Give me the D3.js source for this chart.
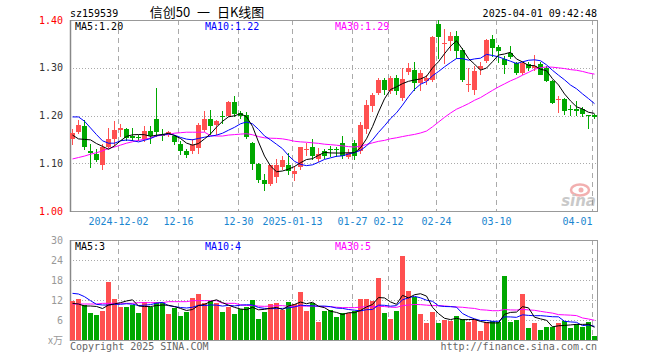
<!DOCTYPE html>
<html>
<head>
<meta charset="utf-8">
<title>sz159539</title>
<style>
body { margin: 0; background: #fff; overflow: hidden; }
svg text { font-family: "DejaVu Sans Mono", monospace; font-size: 10px; }
</style>
<script src="https://d3js.org/d3.v7.min.js"></script>
</head>
<body>
<script>
// daily candles 2024-11-20 .. 2025-04-01 (88 trading days)
const opens = [1.150,1.165,1.179,1.126,1.119,1.096,1.135,1.150,1.169,1.171,
  1.157,1.154,1.150,1.167,1.192,1.160,1.160,1.157,1.140,1.126,
  1.126,1.131,1.169,1.193,1.181,1.200,1.199,1.228,1.206,1.202,
  1.143,1.098,1.065,1.056,1.072,1.092,1.096,1.077,1.093,1.128,
  1.133,1.108,1.126,1.130,1.130,1.143,1.114,1.143,1.126,1.171,
  1.219,1.247,1.275,1.251,1.278,1.237,1.292,1.296,1.268,1.272,
  1.275,1.392,1.350,1.357,1.367,1.338,1.264,1.253,1.297,1.315,
  1.360,1.344,1.318,1.331,1.310,1.288,1.308,1.300,1.308,1.299,
  1.273,1.232,1.235,1.213,1.213,1.214,1.202,1.201];
const closes = [1.164,1.181,1.133,1.121,1.107,1.135,1.150,1.169,1.174,1.153,
  1.152,1.153,1.167,1.157,1.165,1.159,1.165,1.144,1.126,1.117,
  1.138,1.181,1.193,1.178,1.188,1.199,1.228,1.204,1.200,1.156,
  1.098,1.065,1.056,1.096,1.096,1.106,1.084,1.084,1.135,1.130,
  1.115,1.119,1.115,1.129,1.129,1.115,1.122,1.115,1.181,1.223,
  1.242,1.275,1.254,1.278,1.251,1.276,1.299,1.268,1.289,1.278,
  1.364,1.364,1.352,1.367,1.336,1.275,1.266,1.294,1.304,1.358,
  1.341,1.336,1.305,1.322,1.288,1.310,1.299,1.303,1.285,1.272,
  1.226,1.234,1.209,1.212,1.210,1.203,1.200,1.197];
const highs = [1.171,1.190,1.190,1.140,1.129,1.140,1.174,1.188,1.183,1.174,
  1.174,1.160,1.178,1.178,1.258,1.172,1.167,1.160,1.146,1.129,
  1.150,1.184,1.209,1.211,1.190,1.209,1.230,1.240,1.210,1.208,
  1.145,1.101,1.077,1.096,1.108,1.115,1.122,1.094,1.135,1.143,
  1.150,1.131,1.129,1.137,1.134,1.157,1.129,1.148,1.186,1.233,
  1.248,1.278,1.278,1.282,1.284,1.299,1.309,1.313,1.296,1.284,
  1.366,1.400,1.381,1.374,1.376,1.342,1.299,1.303,1.313,1.360,
  1.369,1.348,1.325,1.346,1.313,1.313,1.311,1.327,1.311,1.303,
  1.275,1.240,1.237,1.221,1.230,1.218,1.202,1.204];
const lows = [1.140,1.163,1.129,1.092,1.105,1.088,1.131,1.138,1.157,1.148,
  1.148,1.148,1.146,1.142,1.157,1.148,1.157,1.141,1.119,1.114,
  1.122,1.122,1.167,1.162,1.162,1.185,1.199,1.199,1.195,1.152,
  1.088,1.061,1.044,1.054,1.061,1.087,1.077,1.065,1.088,1.118,
  1.108,1.105,1.112,1.115,1.116,1.112,1.112,1.109,1.122,1.164,
  1.209,1.244,1.244,1.248,1.246,1.233,1.286,1.254,1.253,1.266,
  1.272,1.320,1.310,1.338,1.320,1.272,1.251,1.244,1.286,1.313,
  1.324,1.311,1.290,1.320,1.286,1.286,1.295,1.296,1.286,1.272,
  1.226,1.207,1.203,1.202,1.202,1.198,1.174,1.194];
// volume, 万
const volumes = [11.8,12.3,10.5,8.2,7.5,8.7,17.5,12.3,10.0,10.0,
  10.5,8.2,11.5,10.0,11.5,11.3,7.8,9.5,7.2,8.5,
  12.7,13.9,11.0,11.7,11.0,8.5,10.0,7.8,9.2,10.0,
  12.0,6.3,8.5,10.8,11.2,9.0,11.5,10.8,14.4,8.7,
  11.2,5.5,8.7,9.0,7.0,8.0,8.2,8.8,12.3,12.3,
  11.7,18.6,8.2,6.3,8.7,25.2,14.7,13.0,7.8,5.2,
  8.4,5.2,6.0,5.8,7.2,6.2,5.5,6.2,2.7,5.5,
  5.7,5.5,19.2,5.5,6.0,13.8,3.7,5.2,3.0,3.9,
  4.0,5.2,5.8,3.7,4.8,3.9,5.5,1.2];

// moving average values before a full window exists
const ma5Head = [1.159,1.151,1.150,1.149];
const ma10Head = [1.197,1.197,1.188,1.174,1.160,1.147,1.142,1.142,1.147];
const ma30Head = [1.109,1.112,1.115,1.119,1.122,1.126,1.131,1.134,1.138,1.142,
  1.145,1.148,1.150,1.153,1.157,1.159,1.160,1.163,1.164,1.165,
  1.165,1.165,1.165,1.158,1.157,1.157,1.159,1.160,1.161];
const vma5Head = [11.0,10.8,10.2,10.2];
const vma10Head = [14.0,13.8,13.0,11.8,10.7,10.5,10.5,10.7,10.7];
const vma30Head = [10.8,10.8,10.8,10.8,10.8,11.0,11.0,11.0,11.0,11.0,
  11.0,11.2,11.2,11.2,11.2,11.2,11.5,11.5,11.5,11.5,
  11.8,11.8,11.8,11.8,11.8,11.0,11.0,11.0,10.6];

const tickIdx = [8,18,28,37,47,53,61,71,87];
const tickLabels = ["2024-12-02","12-16","12-30","2025-01-13","01-27","02-12","02-24","03-10","04-01"];
const priceTicks = [1.00,1.10,1.20,1.30,1.40];
const volTicks = [6,12,18,24,30];

const RED = "#ff5050", GREEN = "#00a800";
const left = 70, right = 597;

function movingAvg(vals, n, head) {
  return vals.map((v, i) => i < n - 1 ? head[i] : d3.mean(vals.slice(i - n + 1, i + 1)));
}
const ma5 = movingAvg(closes, 5, ma5Head);
const ma10 = movingAvg(closes, 10, ma10Head);
const ma30 = movingAvg(closes, 30, ma30Head);
const vma5 = movingAvg(volumes, 5, vma5Head);
const vma10 = movingAvg(volumes, 10, vma10Head);
const vma30 = movingAvg(volumes, 30, vma30Head);

const svg = d3.select("body").append("svg")
  .attr("width", 660).attr("height", 360);

const x = d3.scaleBand().domain(d3.range(closes.length)).range([left - 0.5, right + 0.5]);
const xc = i => x(i) + 3;
const y = d3.scaleLinear().domain([1.0, 1.4]).range([211, 20]);
const yv = d3.scaleLinear().domain([0, 30]).range([340, 240]);

// header
svg.append("text").attr("x", 70).attr("y", 17).text("sz159539");
svg.append("text").attr("x", 207).attr("y", 17).attr("text-anchor", "middle")
  .style("font-family", "'Noto Sans CJK SC', sans-serif").style("font-size", "13px")
  .style("word-spacing", "4px")
  .text("信创50 一 日K线图");
svg.append("text").attr("x", 597).attr("y", 17).attr("text-anchor", "end").text("2025-04-01 09:42:48");

function panel(yScale, top, bottom, ticks, fmt, labelColor) {
  const g = svg.append("g");
  // horizontal dotted grid
  g.selectAll("line.h").data(ticks.filter(t => yScale(t) > top + 1 && yScale(t) < bottom - 1))
    .enter().append("line")
    .attr("x1", left).attr("x2", right)
    .attr("y1", d => Math.round(yScale(d)) + 0.5).attr("y2", d => Math.round(yScale(d)) + 0.5)
    .attr("stroke", "#aaa").attr("stroke-dasharray", "1,2");
  // vertical dashed
  g.selectAll("line.v").data(tickIdx).enter().append("line")
    .attr("x1", d => x(d) + 1).attr("x2", d => x(d) + 1)
    .attr("y1", top).attr("y2", bottom)
    .attr("stroke", "#aaa").attr("stroke-dasharray", "5,4");
  g.append("rect").attr("x", left + 0.5).attr("y", top + 0.5)
    .attr("width", right - left).attr("height", bottom - top)
    .attr("fill", "none").attr("stroke", "#999");
  g.append("line").attr("x1", left + 0.5).attr("x2", left + 0.5).attr("y1", top).attr("y2", bottom + 1)
    .attr("stroke", "#888").attr("stroke-width", 1.5);
  const ax = svg.append("g").attr("transform", `translate(${left - 4},0)`)
    .call(d3.axisLeft(yScale).tickValues(ticks).tickSize(0).tickFormat(fmt));
  ax.select(".domain").remove();
  ax.selectAll("text").attr("fill", labelColor).style("font-family", "'DejaVu Sans Mono', monospace").style("font-size", "10px");
  return ax;
}

const pax = panel(y, 20, 211, priceTicks, d => d.toFixed(2), d => (d === 1.40 || d === 1.00) ? "#ff0000" : "#333");
const vax = panel(yv, 240, 340, volTicks, d => d, "#999");
svg.append("text").attr("x", 63).attr("y", 344).attr("text-anchor", "end").attr("fill", "#999")
  .style("font-family", "'Noto Sans CJK SC', sans-serif").style("font-size", "10px").text("x万");

// date labels
const dax = svg.append("g").attr("transform", "translate(0,212)")
  .call(d3.axisBottom(x).tickValues(tickIdx).tickSize(0).tickPadding(6).tickFormat((d, k) => tickLabels[k]));
dax.select(".domain").remove();
dax.selectAll(".tick").attr("transform", d => `translate(${x(d) + 1},0)`);
dax.selectAll("text").attr("fill", "#1a86d0").style("font-family", "'DejaVu Sans Mono', monospace").style("font-size", "10px")
  .attr("text-anchor", d => d === tickIdx[tickIdx.length - 1] ? "end" : "middle");

// sina watermark
const wm = svg.append("g").attr("opacity", 0.45);
wm.append("ellipse").attr("cx", 580).attr("cy", 190).attr("rx", 9).attr("ry", 5.5).attr("fill", "none").attr("stroke", "#e35050").attr("stroke-width", 2.5);
wm.append("circle").attr("cx", 581).attr("cy", 190).attr("r", 2.5).attr("fill", "#e35050");
wm.append("text").attr("x", 596).attr("y", 206).attr("text-anchor", "end").attr("fill", "#888")
  .style("font-family", "'DejaVu Sans', sans-serif").style("font-size", "15px").style("font-weight", "bold").style("font-style", "italic").text("sina");

// candles
const idx = d3.range(closes.length);
const col = i => closes[i] >= opens[i] ? RED : GREEN;
const cg = svg.append("g").attr("shape-rendering", "crispEdges");
cg.selectAll("line.wick").data(idx).enter().append("line")
  .attr("x1", i => xc(i)).attr("x2", i => xc(i))
  .attr("y1", i => Math.round(y(highs[i]))).attr("y2", i => Math.round(y(lows[i])) + 1)
  .attr("stroke", col);
cg.selectAll("rect.body").data(idx).enter().append("rect")
  .attr("x", i => x(i) + 0.5).attr("width", 5)
  .attr("y", i => Math.round(y(Math.max(opens[i], closes[i]))))
  .attr("height", i => Math.max(1, Math.round(y(Math.min(opens[i], closes[i]))) - Math.round(y(Math.max(opens[i], closes[i])))))
  .attr("fill", col);

// volume bars
svg.append("g").attr("shape-rendering", "crispEdges").selectAll("rect").data(idx).enter().append("rect")
  .attr("x", i => x(i) + 0.5).attr("width", 5)
  .attr("y", i => Math.round(yv(volumes[i])))
  .attr("height", i => 340 - Math.round(yv(volumes[i])))
  .attr("fill", col);

function maLine(vals, scale, color) {
  svg.append("path").datum(idx)
    .attr("d", d3.line().x(i => xc(i)).y(i => scale(vals[i])))
    .attr("fill", "none").attr("stroke", color).attr("stroke-width", 1);
}
maLine(ma30, y, "#ff00ff");
maLine(ma10, y, "#0000ff");
maLine(ma5, y, "#000");
maLine(vma30, yv, "#ff00ff");
maLine(vma10, yv, "#0000ff");
maLine(vma5, yv, "#000");

// legends
const last = closes.length - 1;
svg.append("text").attr("x", 75).attr("y", 30).attr("fill", "#000").text("MA5:" + ma5[last].toFixed(2));
svg.append("text").attr("x", 205).attr("y", 30).attr("fill", "#0000ff").text("MA10:" + ma10[last].toFixed(2));
svg.append("text").attr("x", 335).attr("y", 30).attr("fill", "#ff00ff").text("MA30:" + ma30[last].toFixed(2));
svg.append("text").attr("x", 75).attr("y", 250).attr("fill", "#000").text("MA5:" + Math.floor(vma5[last]));
svg.append("text").attr("x", 205).attr("y", 250).attr("fill", "#0000ff").text("MA10:" + Math.floor(vma10[last]));
svg.append("text").attr("x", 335).attr("y", 250).attr("fill", "#ff00ff").text("MA30:" + Math.floor(vma30[last]));

// footer
svg.append("text").attr("x", 70).attr("y", 350).attr("fill", "#666").text("Copyright 2025 SINA.COM");
svg.append("text").attr("x", 597).attr("y", 350).attr("text-anchor", "end").attr("fill", "#666").text("http://finance.sina.com.cn");
</script>
</body>
</html>
